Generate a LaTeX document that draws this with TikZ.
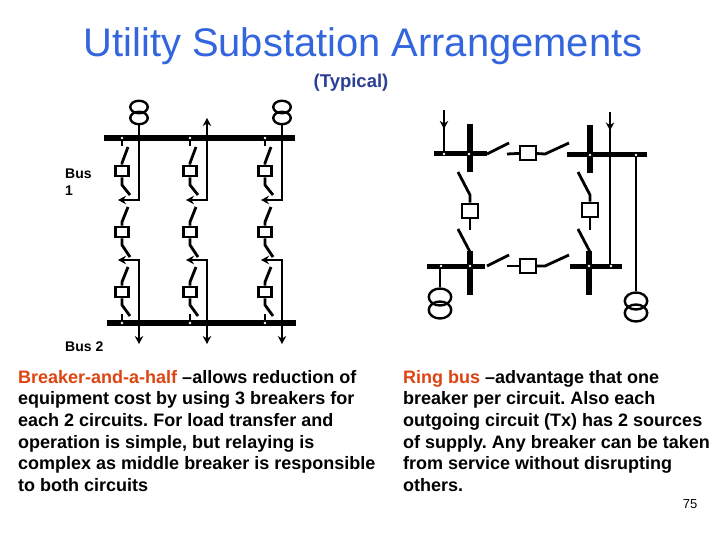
\documentclass[tikz,border=0pt]{standalone}
\usepackage{fontspec}
\setmainfont{Liberation Sans}
\usetikzlibrary{arrows.meta,decorations.markings,shapes.geometric}
\definecolor{titleblue}{HTML}{3366DD}
\definecolor{subblue}{HTML}{2B3F96}
\definecolor{headred}{HTML}{DD4411}
\tikzset{
  x=1pt,y=-1pt,
  wire/.style={line width=2.8pt,line join=miter},
  busbar/.style={line width=6pt},
  ringbar/.style={line width=5pt},
  brk/.style={draw,line width=2.4pt,fill=white,minimum width=13pt,minimum height=10.5pt,inner sep=0pt},
  ringbrk/.style={draw,line width=2.4pt,fill=white,minimum width=15.5pt,minimum height=14.5pt,inner sep=0pt},
  coil/.style={draw,ellipse,line width=2.4pt,minimum width=17.5pt,minimum height=12.5pt,inner sep=0pt},
  ringcoil/.style={draw,ellipse,line width=2.4pt,minimum width=22.5pt,minimum height=17pt,inner sep=0pt},
  dot/.style={circle,fill=white,minimum size=2.6pt,inner sep=0pt},
  tip/.style={-{Stealth[length=8pt,width=8.5pt]}},
  midtip/.style={decoration={markings,mark=at position #1 with {\arrow{Stealth[length=8pt,width=8.5pt]}}},postaction={decorate}},
  para/.style={anchor=north west,align=left,font=\fontsize{18pt}{21.6pt}\selectfont\bfseries,inner sep=0pt},
  small/.style={anchor=north west,align=left,font=\fontsize{14pt}{17pt}\selectfont\bfseries,inner sep=0pt}
}
\frenchspacing
\begin{document}
\begin{tikzpicture}
  \useasboundingbox (0,0) rectangle (720,540);
  \fill[white] (0,0) rectangle (720,540);
  \node[anchor=center,font=\fontsize{39.9pt}{42pt}\selectfont,text=titleblue,inner sep=0pt] (title) at (363,46) {Utility Substation Arrangements};
  \node[font=\fontsize{18.5pt}{20pt}\selectfont\bfseries,text=subblue,inner sep=0pt] (typical) at (351,83) {(Typical)};
  \node[small] (bus1) at (65,168.5) {Bus\\1};
  \node[small] (bus2) at (65,342) {Bus 2};
  \node[para] (left) at (18,370) {\textcolor{headred}{Breaker-and-a-half} –allows reduction of\\equipment cost by using 3 breakers for\\each 2 circuits. For load transfer and\\operation is simple, but relaying is\\complex as middle breaker is responsible\\to both circuits};
  \node[para] (right) at (403,370) {\textcolor{headred}{Ring bus} –advantage that one\\breaker per circuit. Also each\\outgoing circuit (Tx) has 2 sources\\of supply. Any breaker can be taken\\from service without disrupting\\others.};
  \node[font=\fontsize{13pt}{15pt}\selectfont,inner sep=0pt] (page) at (690,504) {75};
  % breaker-and-a-half
  \coordinate (b1w) at (104,138); \coordinate (b1e) at (295,138);
  \coordinate (b2w) at (107,323); \coordinate (b2e) at (296,323);
  \draw[busbar] (b1w) -- (b1e);
  \draw[busbar] (b2w) -- (b2e);
  \foreach \name/\x/\f in {a/122/139,b/190/207,c/265/282}{
    \node[brk] (\name1) at (\x,171) {};
    \node[brk] (\name2) at (\x,232) {};
    \node[brk] (\name3) at (\x,292) {};
    \coordinate (\name t) at (\x,138);
    \coordinate (\name b) at (\x,323);
    \coordinate (\name u) at (\f,200);
    \coordinate (\name l) at (\f,260);
    \coordinate (\name d) at (\f,344);
    \coordinate (\name ua) at (\x-4,200);
    \coordinate (\name la) at (\x-4,260);
    % switches
    \draw[wire] (\name t) -- ++(0,8);
    \draw[wire] (\x+6,147) -- (\x,163) -- (\name1);
    \draw[wire] (\name1) -- (\x,185) -- (\x+8,195);
    \draw[wire] (\x+6,207) -- (\x,222) -- (\name2);
    \draw[wire] (\name2) -- (\x,245) -- (\x+8,257);
    \draw[wire] (\x+6,267) -- (\x,282) -- (\name3);
    \draw[wire] (\name3) -- (\x,305) -- (\x+8,316);
    \draw[wire] (\x,314) -- (\name b);
    % circuits
    \draw[wire,tip] (\f,138) -- (\name u) -- (\name ua);
    \draw[wire,tip] (\f,323) -- (\name l) -- (\name la);
    \draw[wire,tip] (\f,323) -- (\name d);
    \node[dot] (\name d1) at (\name t) {};
    \node[dot] (\name d2) at (\name b) {};
  }
  \node[coil] (t1a) at (139,107) {};
  \node[coil] (t1b) at (139,118) {};
  \node[coil] (t2a) at (282,107) {};
  \node[coil] (t2b) at (282,118) {};
  \draw[wire] (t1b) -- (au);
  \draw[wire] (t2b) -- (cu);
  \draw[wire,tip] (bu) -- (207,118);
  % ring bus
  \coordinate (r1w) at (434,154); \coordinate (r1e) at (487,154);
  \coordinate (r2w) at (567,155); \coordinate (r2e) at (647,155);
  \coordinate (r3w) at (427,266); \coordinate (r3e) at (485,266);
  \coordinate (r4w) at (570,266); \coordinate (r4e) at (622,266);
  \draw[ringbar] (r1w) -- (r1e);
  \draw[ringbar] (r2w) -- (r2e);
  \draw[ringbar] (r3w) -- (r3e);
  \draw[ringbar] (r4w) -- (r4e);
  \draw[busbar] (470,124) -- (470,172);
  \draw[busbar] (590,125) -- (590,173);
  \draw[busbar] (470,251) -- (470,295);
  \draw[busbar] (589,251) -- (589,295);
  \node[ringbrk] (r1) at (528,153) {};
  \node[ringbrk] (r2) at (528,266) {};
  \node[ringbrk] (r3) at (470,211) {};
  \node[ringbrk] (r4) at (590,210) {};
  \foreach \y/\g in {154/r1,266/r2}{
    \draw[wire] (487,\y) -- (509,\y-11);
    \draw[wire] (\g) -- (507,\y);
    \draw[wire] (\g) -- (545,\y) -- (569,\y-11);
  }
  \foreach \x/\g in {470/r3,590/r4}{
    \draw[wire] (\x-12,172) -- (\x,195) -- (\g);
    \draw[wire] (\g) -- (\x,230);
    \draw[wire] (\x-12,229) -- (\x,252);
  }
  \draw[wire,midtip=0.43] (444,110) -- (444,154);
  \draw[wire,midtip=0.12] (610,112) -- (610,266);
  \node[ringcoil] (t3a) at (440,297) {};
  \node[ringcoil] (t3b) at (440,310) {};
  \node[ringcoil] (t4a) at (636,301) {};
  \node[ringcoil] (t4b) at (636,313) {};
  \draw[wire] (636,155) -- (t4a);
  \draw[wire] (440,266) -- (t3a);
  \foreach \x/\y [count=\i] in {444/154,469/154,590/155,636/155,441/266,470/266,589/266,611/266}
    \node[dot] (rd\i) at (\x,\y) {};
\end{tikzpicture}
\end{document}
